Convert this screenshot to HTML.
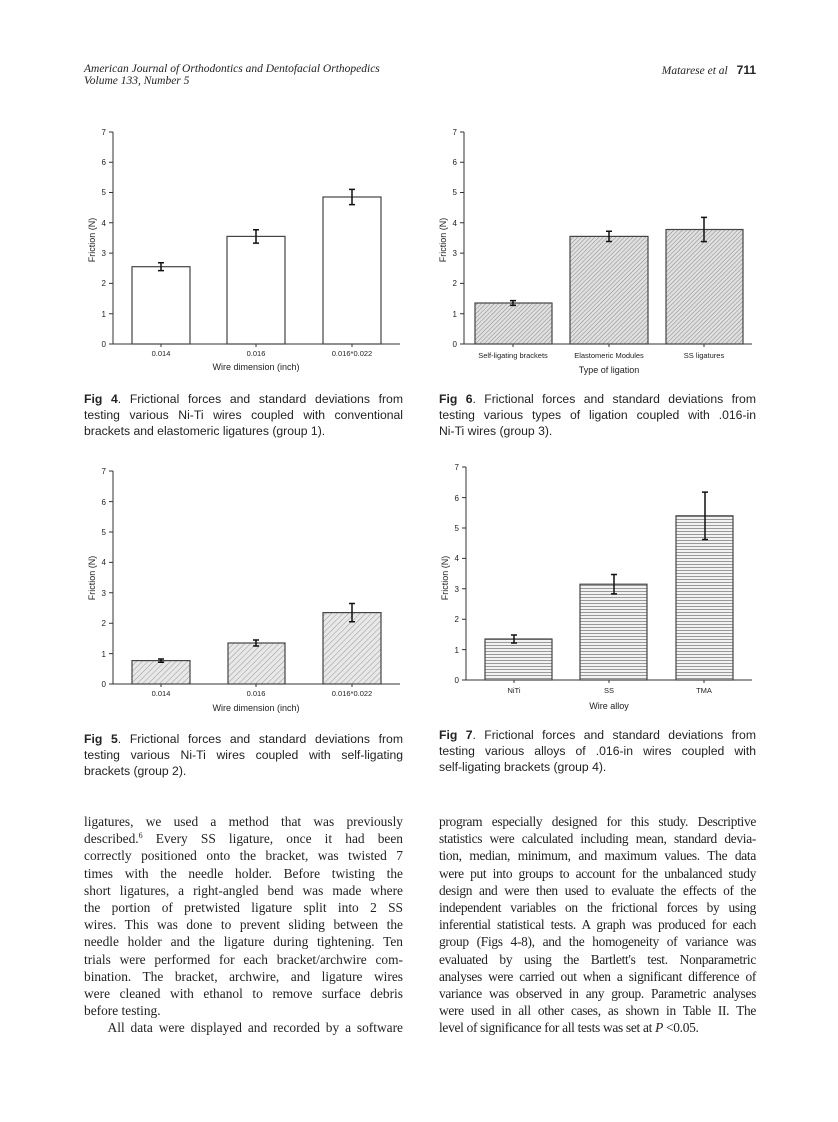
<!DOCTYPE html>
<html><head><meta charset="utf-8"><style>
body{margin:0;background:#fff;width:838px;height:1122px;position:relative;overflow:hidden}
.h{position:absolute;font-family:"Liberation Serif",serif;font-style:italic;font-size:11.5px;color:#222}
.cap{position:absolute;font-family:"Liberation Sans",sans-serif;font-size:12.2px;line-height:16px;color:#222}
.cap div,.body div{text-align:justify;text-align-last:justify;white-space:nowrap}
.cap div.l,.body div.l{text-align-last:left}
.body{position:absolute;font-family:"Liberation Serif",serif;font-size:13.4px;line-height:17.2px;color:#222}
sup{font-size:8px;line-height:0;vertical-align:5px}
svg text{font-family:"Liberation Sans",sans-serif;fill:#222}
</style></head><body>
<div class="h" style="left:84px;top:63px">American Journal of Orthodontics and Dentofacial Orthopedics<br>Volume 133, Number 5</div>
<div class="h" style="right:82px;top:63px;text-align:right">Matarese et al <b style="font-style:normal;font-family:'Liberation Sans',sans-serif;font-size:12px;margin-left:6px">711</b></div>

<svg width="838" height="1122" style="position:absolute;left:0;top:0">
<defs>
<pattern id="d1" width="4" height="4" patternUnits="userSpaceOnUse" patternTransform="rotate(45)"><rect width="4" height="4" fill="#e8e8e8"/><line x1="0" y1="0" x2="0" y2="4" stroke="#999" stroke-width="1"/></pattern>
<pattern id="d2" width="3" height="3" patternUnits="userSpaceOnUse" patternTransform="rotate(45)"><rect width="3" height="3" fill="#e0e0e0"/><line x1="0" y1="0" x2="0" y2="3" stroke="#888" stroke-width="1"/></pattern>
<pattern id="hz" width="4" height="3" patternUnits="userSpaceOnUse"><rect width="4" height="3" fill="#f2f2f2"/><line x1="0" y1="0.5" x2="4" y2="0.5" stroke="#999" stroke-width="1"/></pattern>
</defs>
<g stroke="#333" stroke-width="1" fill="none">
<path d="M113 132V344H400"/>
<path d="M113 344h-4M113 313.7h-4M113 283.4h-4M113 253.1h-4M113 222.8h-4M113 192.5h-4M113 162.2h-4M113 132h-4"/>
<path d="M161 344v3M256 344v3M352 344v3"/>
<path d="M113 471V684H400"/>
<path d="M113 684h-4M113 653.6h-4M113 623.2h-4M113 592.8h-4M113 562.4h-4M113 532h-4M113 501.6h-4M113 471h-4"/>
<path d="M161 684v3M256 684v3M352 684v3"/>
<path d="M464 132V344H752"/>
<path d="M464 344h-4M464 313.7h-4M464 283.4h-4M464 253.1h-4M464 222.8h-4M464 192.5h-4M464 162.2h-4M464 132h-4"/>
<path d="M513 344v3M609 344v3M704 344v3"/>
<path d="M466 467V680H752"/>
<path d="M466 680h-4M466 649.6h-4M466 619.2h-4M466 588.8h-4M466 558.4h-4M466 528h-4M466 497.6h-4M466 467h-4"/>
<path d="M514 680v3M609 680v3M704 680v3"/>
</g>
<g stroke="#444" stroke-width="1.2">
<rect x="132" y="266.7" width="58" height="77.3" fill="#fff"/>
<rect x="227" y="236.4" width="58" height="107.6" fill="#fff"/>
<rect x="323" y="197" width="58" height="147" fill="#fff"/>
<rect x="132" y="660.6" width="58" height="23.4" fill="url(#d1)"/>
<rect x="228" y="643" width="57" height="41" fill="url(#d1)"/>
<rect x="323" y="612.6" width="58" height="71.4" fill="url(#d1)"/>
<rect x="475" y="303" width="77" height="41" fill="url(#d2)"/>
<rect x="570" y="236.4" width="78" height="107.6" fill="url(#d2)"/>
<rect x="666" y="229.5" width="77" height="114.5" fill="url(#d2)"/>
<rect x="485" y="639" width="67" height="41" fill="url(#hz)"/>
<rect x="580" y="584.2" width="67" height="95.8" fill="url(#hz)"/>
<rect x="676" y="515.8" width="57" height="164.2" fill="url(#hz)"/>
</g>
<g stroke="#111" stroke-width="1.5" fill="none">
<path d="M161 262.8v7.8M158 262.8h6M158 270.6h6"/>
<path d="M256 229.7v13.4M253 229.7h6M253 243.1h6"/>
<path d="M352 189.4v15.2M349 189.4h6M349 204.6h6"/>
<path d="M161 659v3.2M158 659h6M158 662.2h6"/>
<path d="M256 640v6M253 640h6M253 646h6"/>
<path d="M352 603.5v18.2M349 603.5h6M349 621.7h6"/>
<path d="M513 300.6v4.8M510 300.6h6M510 305.4h6"/>
<path d="M609 231.2v10.3M606 231.2h6M606 241.5h6"/>
<path d="M704 217.4v24.2M701 217.4h6M701 241.6h6"/>
<path d="M514 635v8M511 635h6M511 643h6"/>
<path d="M614 574.5v19.4M611 574.5h6M611 593.9h6"/>
<path d="M705 492.1v47.4M702 492.1h6M702 539.5h6"/>
</g>
<g font-size="8" text-anchor="end">
<text x="106" y="347">0</text><text x="106" y="317">1</text><text x="106" y="286">2</text><text x="106" y="256">3</text><text x="106" y="226">4</text><text x="106" y="195">5</text><text x="106" y="165">6</text><text x="106" y="135">7</text>
<text x="106" y="687">0</text><text x="106" y="657">1</text><text x="106" y="626">2</text><text x="106" y="596">3</text><text x="106" y="565">4</text><text x="106" y="535">5</text><text x="106" y="505">6</text><text x="106" y="474">7</text>
<text x="457" y="347">0</text><text x="457" y="317">1</text><text x="457" y="286">2</text><text x="457" y="256">3</text><text x="457" y="226">4</text><text x="457" y="195">5</text><text x="457" y="165">6</text><text x="457" y="135">7</text>
<text x="459" y="683">0</text><text x="459" y="653">1</text><text x="459" y="622">2</text><text x="459" y="592">3</text><text x="459" y="561">4</text><text x="459" y="531">5</text><text x="459" y="501">6</text><text x="459" y="470">7</text>
</g>
<g font-size="7.5" text-anchor="middle">
<text x="161" y="356">0.014</text><text x="256" y="356">0.016</text><text x="352" y="356">0.016*0.022</text>
<text x="161" y="696">0.014</text><text x="256" y="696">0.016</text><text x="352" y="696">0.016*0.022</text>
<text x="513" y="358">Self-ligating brackets</text><text x="609" y="358">Elastomeric Modules</text><text x="704" y="358">SS ligatures</text>
<text x="514" y="693">NiTi</text><text x="609" y="693">SS</text><text x="704" y="693">TMA</text>
</g>
<g font-size="9" text-anchor="middle">
<text x="256" y="370">Wire dimension (inch)</text>
<text x="256" y="711">Wire dimension (inch)</text>
<text x="609" y="373">Type of ligation</text>
<text x="609" y="709">Wire alloy</text>
<text transform="translate(95 240) rotate(-90)">Friction (N)</text>
<text transform="translate(95 578) rotate(-90)">Friction (N)</text>
<text transform="translate(446 240) rotate(-90)">Friction (N)</text>
<text transform="translate(448 578) rotate(-90)">Friction (N)</text>
</g>
</svg>

<div class="cap" style="left:84px;top:391px;width:319px">
<div><b>Fig 4</b>. Frictional forces and standard deviations from</div>
<div>testing various Ni-Ti wires coupled with conventional</div>
<div class="l">brackets and elastomeric ligatures (group 1).</div></div>
<div class="cap" style="left:439px;top:391px;width:317px">
<div><b>Fig 6</b>. Frictional forces and standard deviations from</div>
<div>testing various types of ligation coupled with .016-in</div>
<div class="l">Ni-Ti wires (group 3).</div></div>
<div class="cap" style="left:84px;top:731px;width:319px">
<div><b>Fig 5</b>. Frictional forces and standard deviations from</div>
<div>testing various Ni-Ti wires coupled with self-ligating</div>
<div class="l">brackets (group 2).</div></div>
<div class="cap" style="left:439px;top:727px;width:317px">
<div><b>Fig 7</b>. Frictional forces and standard deviations from</div>
<div>testing various alloys of .016-in wires coupled with</div>
<div class="l">self-ligating brackets (group 4).</div></div>

<div class="body" style="left:84px;top:813px;width:319px">
<div>ligatures, we used a method that was previously</div>
<div>described.<sup>6</sup> Every SS ligature, once it had been</div>
<div>correctly positioned onto the bracket, was twisted 7</div>
<div>times with the needle holder. Before twisting the</div>
<div>short ligatures, a right-angled bend was made where</div>
<div>the portion of pretwisted ligature split into 2 SS</div>
<div>wires. This was done to prevent sliding between the</div>
<div>needle holder and the ligature during tightening. Ten</div>
<div>trials were performed for each bracket/archwire com-</div>
<div>bination. The bracket, archwire, and ligature wires</div>
<div>were cleaned with ethanol to remove surface debris</div>
<div class="l">before testing.</div>
<div>&nbsp;&nbsp;&nbsp;&nbsp;All data were displayed and recorded by a software</div>
</div>
<div class="body" style="left:439px;top:813px;width:317px;letter-spacing:-0.3px">
<div>program especially designed for this study. Descriptive</div>
<div>statistics were calculated including mean, standard devia-</div>
<div>tion, median, minimum, and maximum values. The data</div>
<div>were put into groups to account for the unbalanced study</div>
<div>design and were then used to evaluate the effects of the</div>
<div>independent variables on the frictional forces by using</div>
<div>inferential statistical tests. A graph was produced for each</div>
<div>group (Figs 4-8), and the homogeneity of variance was</div>
<div>evaluated by using the Bartlett's test. Nonparametric</div>
<div>analyses were carried out when a significant difference of</div>
<div>variance was observed in any group. Parametric analyses</div>
<div>were used in all other cases, as shown in Table II. The</div>
<div class="l">level of significance for all tests was set at <i>P</i> &lt;0.05.</div>
</div>
</body></html>
